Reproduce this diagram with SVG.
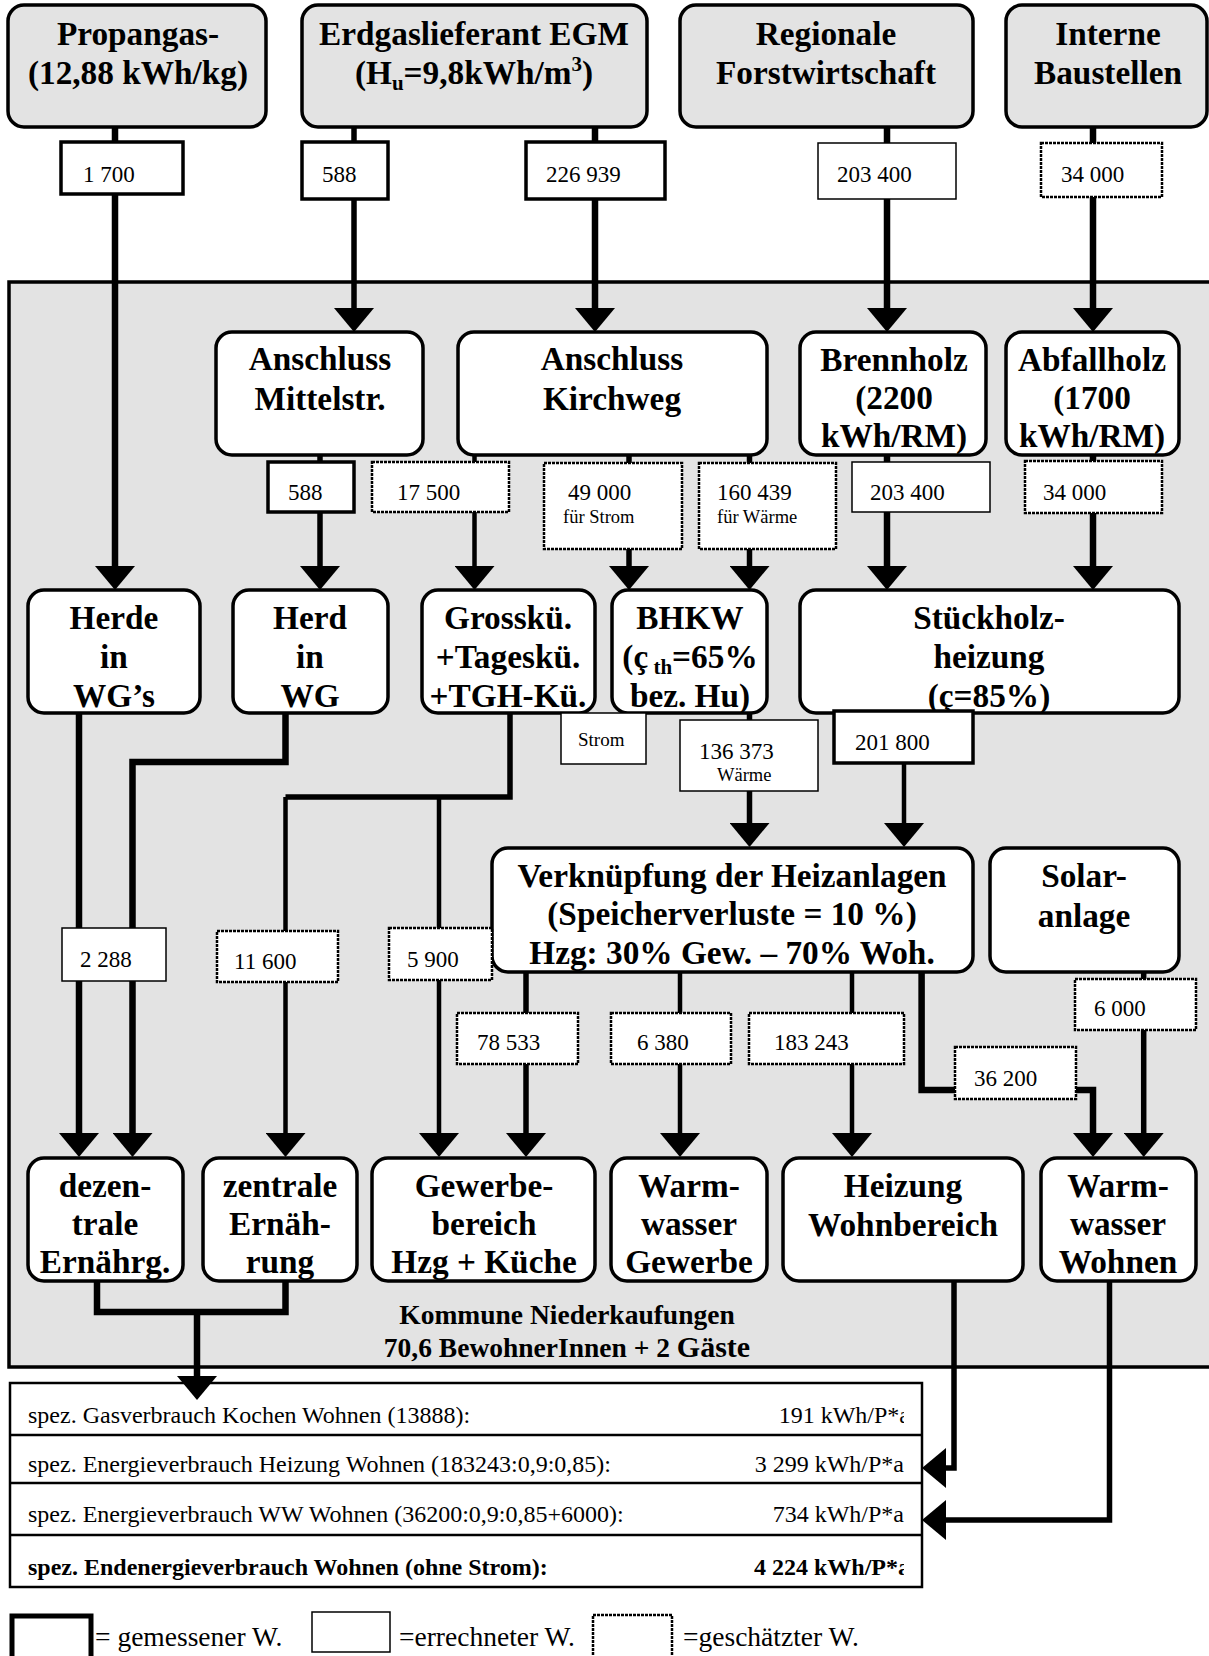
<svg xmlns="http://www.w3.org/2000/svg" width="1209" height="1656" viewBox="0 0 1209 1656">
<style>
.bg{fill:#e3e3e3;stroke:#000;stroke-width:3.5}
.src{fill:#e3e3e3;stroke:#000;stroke-width:3.5}
.nd{fill:#fff;stroke:#000;stroke-width:3.5}
.t{font-family:"Liberation Serif","Times New Roman",serif;font-weight:bold;font-size:33.3px;text-anchor:middle;fill:#000}
.k{font-family:"Liberation Serif","Times New Roman",serif;font-weight:bold;font-size:27.5px;text-anchor:middle;fill:#000}
.v{font-family:"Liberation Serif","Times New Roman",serif;font-size:23px;fill:#000}
.r{font-family:"Liberation Serif","Times New Roman",serif;font-size:24px;fill:#000}
.lg{font-family:"Liberation Serif","Times New Roman",serif;font-size:27.5px;fill:#000}
.s{font-family:"Liberation Serif","Times New Roman",serif;font-size:18.5px;fill:#000}
.m{fill:#fff;stroke:#000;stroke-width:3.5}
.e{fill:#fff;stroke:#000;stroke-width:1.5}
.g{fill:#fff;stroke:#000;stroke-width:2.5;stroke-dasharray:3 1}
.c{fill:none;stroke:#000;stroke-width:5.5;stroke-linejoin:miter}
.ck{fill:none;stroke:#000;stroke-width:6.5;stroke-linejoin:miter}
.cn{fill:none;stroke:#000;stroke-width:4.5;stroke-linejoin:miter}
.a{marker-end:url(#ah)}
.tb{fill:#fff;stroke:#000;stroke-width:2.5}
.tl{stroke:#000;stroke-width:2.5}
</style>
<defs>
<marker id="ah" viewBox="0 0 24 40" refX="1" refY="20" markerWidth="24" markerHeight="40" markerUnits="userSpaceOnUse" orient="auto"><path d="M0,0 L24,20 L0,40 Z" fill="#000"/></marker>
<clipPath id="tclip"><rect x="10" y="1383" width="894" height="204"/></clipPath>
</defs>
<rect width="1209" height="1656" fill="#fff"/>

<g id="kommune">
<rect class="bg" x="9" y="282" width="1215" height="1085"/>
<text class="k" x="567" y="1324">Kommune Niederkaufungen</text>
<text class="k" x="567" y="1357">70,6 BewohnerInnen + 2 <tspan style="font-size:30px">Gäste</tspan></text>
</g>

<g id="table">
<rect class="tb" x="10" y="1383" width="912" height="204"/>
<line class="tl" x1="10" y1="1435" x2="922" y2="1435"/>
<line class="tl" x1="10" y1="1483" x2="922" y2="1483"/>
<line class="tl" x1="10" y1="1535" x2="922" y2="1535"/>
<text class="r" x="28" y="1423">spez. Gasverbrauch Kochen Wohnen (13888):</text>
<text class="r" x="28" y="1472">spez. Energieverbrauch Heizung Wohnen (183243:0,9:0,85):</text>
<text class="r" x="28" y="1522">spez. Energieverbrauch WW Wohnen (36200:0,9:0,85+6000):</text>
<text class="r" x="28" y="1575" font-weight="bold">spez. Endenergieverbrauch Wohnen (ohne Strom):</text>
<g clip-path="url(#tclip)">
<text class="r" x="910" y="1423" text-anchor="end">191 kWh/P*a</text>
<text class="r" x="910" y="1575" text-anchor="end" font-weight="bold">4 224 kWh/P*a</text>
</g>
<text class="r" x="904" y="1472" text-anchor="end">3 299 kWh/P*a</text>
<text class="r" x="904" y="1522" text-anchor="end">734 kWh/P*a</text>
</g>

<g id="connectors">
<path class="ck a" d="M115,127 V567"/>
<path class="c a" d="M354,127 V309"/>
<path class="ck a" d="M595,127 V309"/>
<path class="ck a" d="M887,127 V309"/>
<path class="ck a" d="M1093,127 V309"/>
<path class="c a" d="M320,455 V567"/>
<path class="cn a" d="M474.5,455 V567"/>
<path class="c a" d="M629,455 V567"/>
<path class="c a" d="M749.5,455 V567"/>
<path class="ck a" d="M887,455 V567"/>
<path class="ck a" d="M1093,455 V567"/>
<path class="ck a" d="M79,713 V1134"/>
<path class="ck a" d="M285.5,713 V762 H132.5 V1134"/>
<path class="c" d="M510,713 V797 H285.5"/>
<path class="cn a" d="M285.5,797 V1134"/>
<path class="cn a" d="M439,797 V1134"/>
<path class="c a" d="M749.5,713 V824"/>
<path class="cn a" d="M904,763 V824"/>
<path class="c a" d="M526,972 V1134"/>
<path class="cn a" d="M680,972 V1134"/>
<path class="cn a" d="M852,972 V1134"/>
<path class="ck a" d="M921.6,972 V1090 H1093 V1134"/>
<path class="c a" d="M1143.7,972 V1134"/>
<path class="ck" d="M97,1281 V1312 H285.5 V1281"/>
<path class="ck a" d="M197,1312 V1377"/>
<path class="c a" d="M954,1281 V1468 H945"/>
<path class="c a" d="M1109.5,1281 V1520 H945"/>
</g>

<g id="propangas"><rect class="src" x="8" y="5" width="258" height="122" rx="16"/>
<text class="t" x="138" y="45">Propangas-</text><text class="t" x="138" y="84">(12,88 kWh/kg)</text></g>
<g id="erdgas"><rect class="src" x="302" y="5" width="345" height="122" rx="16"/>
<text class="t" x="474" y="45">Erdgaslieferant EGM</text>
<text class="t" x="474" y="84">(H<tspan style="font-size:21px" dy="6">u</tspan><tspan dy="-6">=9,8kWh/m</tspan><tspan style="font-size:21px" dy="-13">3</tspan><tspan dy="13">)</tspan></text></g>
<g id="forst"><rect class="src" x="680" y="5" width="293" height="122" rx="16"/>
<text class="t" x="826" y="45">Regionale</text><text class="t" x="826" y="84">Forstwirtschaft</text></g>
<g id="baustellen"><rect class="src" x="1006" y="5" width="201" height="122" rx="16"/>
<text class="t" x="1108" y="45">Interne</text><text class="t" x="1108" y="84">Baustellen</text></g>

<g id="mittelstr"><rect class="nd" x="216" y="332" width="207" height="123" rx="16"/>
<text class="t" x="320" y="370">Anschluss</text><text class="t" x="320" y="410">Mittelstr.</text></g>
<g id="kirchweg"><rect class="nd" x="458" y="332" width="309" height="123" rx="16"/>
<text class="t" x="612" y="370">Anschluss</text><text class="t" x="612" y="410">Kirchweg</text></g>
<g id="brennholz"><rect class="nd" x="800" y="332" width="186" height="123" rx="16"/>
<text class="t" x="894" y="371">Brennholz</text><text class="t" x="894" y="409">(2200</text><text class="t" x="894" y="447">kWh/RM)</text></g>
<g id="abfallholz"><rect class="nd" x="1006" y="332" width="173" height="123" rx="16"/>
<text class="t" x="1092" y="371">Abfallholz</text><text class="t" x="1092" y="409">(1700</text><text class="t" x="1092" y="447">kWh/RM)</text></g>

<g id="herde"><rect class="nd" x="28" y="590" width="172" height="123" rx="16"/>
<text class="t" x="114" y="629">Herde</text><text class="t" x="114" y="668">in</text><text class="t" x="114" y="707">WG’s</text></g>
<g id="herd"><rect class="nd" x="233" y="590" width="155" height="123" rx="16"/>
<text class="t" x="310" y="629">Herd</text><text class="t" x="310" y="668">in</text><text class="t" x="310" y="707">WG</text></g>
<g id="grosskueche"><rect class="nd" x="422" y="590" width="173" height="123" rx="16"/>
<text class="t" x="508" y="629">Grosskü.</text><text class="t" x="508" y="668">+Tageskü.</text><text class="t" x="508" y="707">+TGH-Kü.</text></g>
<g id="bhkw"><rect class="nd" x="612" y="590" width="155" height="123" rx="16"/>
<text class="t" x="690" y="629">BHKW</text>
<text class="t" x="690" y="668">(ç<tspan style="font-size:21px" dy="6"> th</tspan><tspan dy="-6">=65%</tspan></text>
<text class="t" x="690" y="707">bez. Hu)</text></g>
<g id="stueckholz"><rect class="nd" x="800" y="590" width="379" height="123" rx="16"/>
<text class="t" x="989" y="629">Stückholz-</text><text class="t" x="989" y="668">heizung</text><text class="t" x="989" y="707">(ç=85%)</text></g>

<g id="verknuepfung"><rect class="nd" x="492" y="848" width="481" height="124" rx="16"/>
<text class="t" x="732" y="887">Verknüpfung der Heizanlagen</text>
<text class="t" x="732" y="925">(Speicherverluste = 10 %)</text>
<text class="t" x="732" y="964">Hzg: 30% Gew. – 70% Woh.</text></g>
<g id="solar"><rect class="nd" x="990" y="848" width="189" height="124" rx="16"/>
<text class="t" x="1084" y="887">Solar-</text><text class="t" x="1084" y="927">anlage</text></g>

<g id="dezentrale"><rect class="nd" x="28" y="1158" width="155" height="123" rx="16"/>
<text class="t" x="105" y="1197">dezen-</text><text class="t" x="105" y="1235">trale</text><text class="t" x="105" y="1273">Ernährg.</text></g>
<g id="zentrale"><rect class="nd" x="203" y="1158" width="154" height="123" rx="16"/>
<text class="t" x="280" y="1197">zentrale</text><text class="t" x="280" y="1235">Ernäh-</text><text class="t" x="280" y="1273">rung</text></g>
<g id="gewerbe"><rect class="nd" x="372" y="1158" width="223" height="123" rx="16"/>
<text class="t" x="484" y="1197">Gewerbe-</text><text class="t" x="484" y="1235">bereich</text><text class="t" x="484" y="1273">Hzg + Küche</text></g>
<g id="ww-gewerbe"><rect class="nd" x="611" y="1158" width="156" height="123" rx="16"/>
<text class="t" x="689" y="1197">Warm-</text><text class="t" x="689" y="1235">wasser</text><text class="t" x="689" y="1273">Gewerbe</text></g>
<g id="heizung-wohn"><rect class="nd" x="783" y="1158" width="240" height="123" rx="16"/>
<text class="t" x="903" y="1197">Heizung</text><text class="t" x="903" y="1236">Wohnbereich</text></g>
<g id="ww-wohnen"><rect class="nd" x="1041" y="1158" width="155" height="123" rx="16"/>
<text class="t" x="1118" y="1197">Warm-</text><text class="t" x="1118" y="1235">wasser</text><text class="t" x="1118" y="1273">Wohnen</text></g>

<g id="labels">
<g id="l1700"><rect class="m" x="61" y="142" width="122" height="52"/><text class="v" x="83" y="182">1 700</text></g>
<g id="l588a"><rect class="m" x="302" y="142" width="86" height="57"/><text class="v" x="322" y="182">588</text></g>
<g id="l226939"><rect class="m" x="526" y="142" width="139" height="57"/><text class="v" x="546" y="182">226 939</text></g>
<g id="l203400a"><rect class="e" x="818" y="143" width="138" height="56"/><text class="v" x="837" y="182">203 400</text></g>
<g id="l34000a"><rect class="g" x="1041" y="143" width="121" height="54"/><text class="v" x="1061" y="182">34 000</text></g>

<g id="l588b"><rect class="m" x="268" y="462" width="86" height="50"/><text class="v" x="288" y="500">588</text></g>
<g id="l17500"><rect class="g" x="372" y="462" width="137" height="50"/><text class="v" x="397" y="500">17 500</text></g>
<g id="l49000"><rect class="g" x="544" y="463" width="138" height="86"/><text class="v" x="568" y="500">49 000</text><text class="s" x="563" y="523">für Strom</text></g>
<g id="l160439"><rect class="g" x="699" y="463" width="137" height="86"/><text class="v" x="717" y="500">160 439</text><text class="s" x="717" y="523">für Wärme</text></g>
<g id="l203400b"><rect class="e" x="852" y="462" width="138" height="50"/><text class="v" x="870" y="500">203 400</text></g>
<g id="l34000b"><rect class="g" x="1025" y="461" width="137" height="52"/><text class="v" x="1043" y="500">34 000</text></g>

<g id="lstrom"><rect class="e" x="561" y="713" width="85" height="51"/><text class="s" x="578" y="746" style="font-size:19px">Strom</text></g>
<g id="l136373"><rect class="e" x="680" y="720" width="138" height="71"/><text class="v" x="699" y="759">136 373</text><text class="s" x="717" y="781">Wärme</text></g>
<g id="l201800"><rect class="m" x="834" y="711" width="139" height="52"/><text class="v" x="855" y="750">201 800</text></g>

<g id="l2288"><rect class="e" x="62" y="928" width="104" height="53"/><text class="v" x="80" y="967">2 288</text></g>
<g id="l11600"><rect class="g" x="217" y="931" width="121" height="51"/><text class="v" x="234" y="969">11 600</text></g>
<g id="l5900"><rect class="g" x="389" y="928" width="103" height="52"/><text class="v" x="407" y="967">5 900</text></g>
<g id="l78533"><rect class="g" x="457" y="1013" width="121" height="51"/><text class="v" x="477" y="1050">78 533</text></g>
<g id="l6380"><rect class="g" x="611" y="1013" width="120" height="51"/><text class="v" x="637" y="1050">6 380</text></g>
<g id="l183243"><rect class="g" x="749" y="1013" width="155" height="51"/><text class="v" x="774" y="1050">183 243</text></g>
<g id="l36200"><rect class="g" x="955" y="1047" width="121" height="52"/><text class="v" x="974" y="1086">36 200</text></g>
<g id="l6000"><rect class="g" x="1075" y="979" width="121" height="51"/><text class="v" x="1094" y="1016">6 000</text></g>
</g>

<g id="legend">
<rect x="12" y="1616" width="79" height="44" fill="#fff" stroke="#000" stroke-width="5"/>
<text class="lg" x="95" y="1646">= gemessener W.</text>
<rect class="e" x="312" y="1612" width="78" height="40"/>
<text class="lg" x="399" y="1646">=errechneter W.</text>
<rect class="g" x="593" y="1615" width="79" height="45"/>
<text class="lg" x="683" y="1646">=geschätzter W.</text>
</g>
</svg>
